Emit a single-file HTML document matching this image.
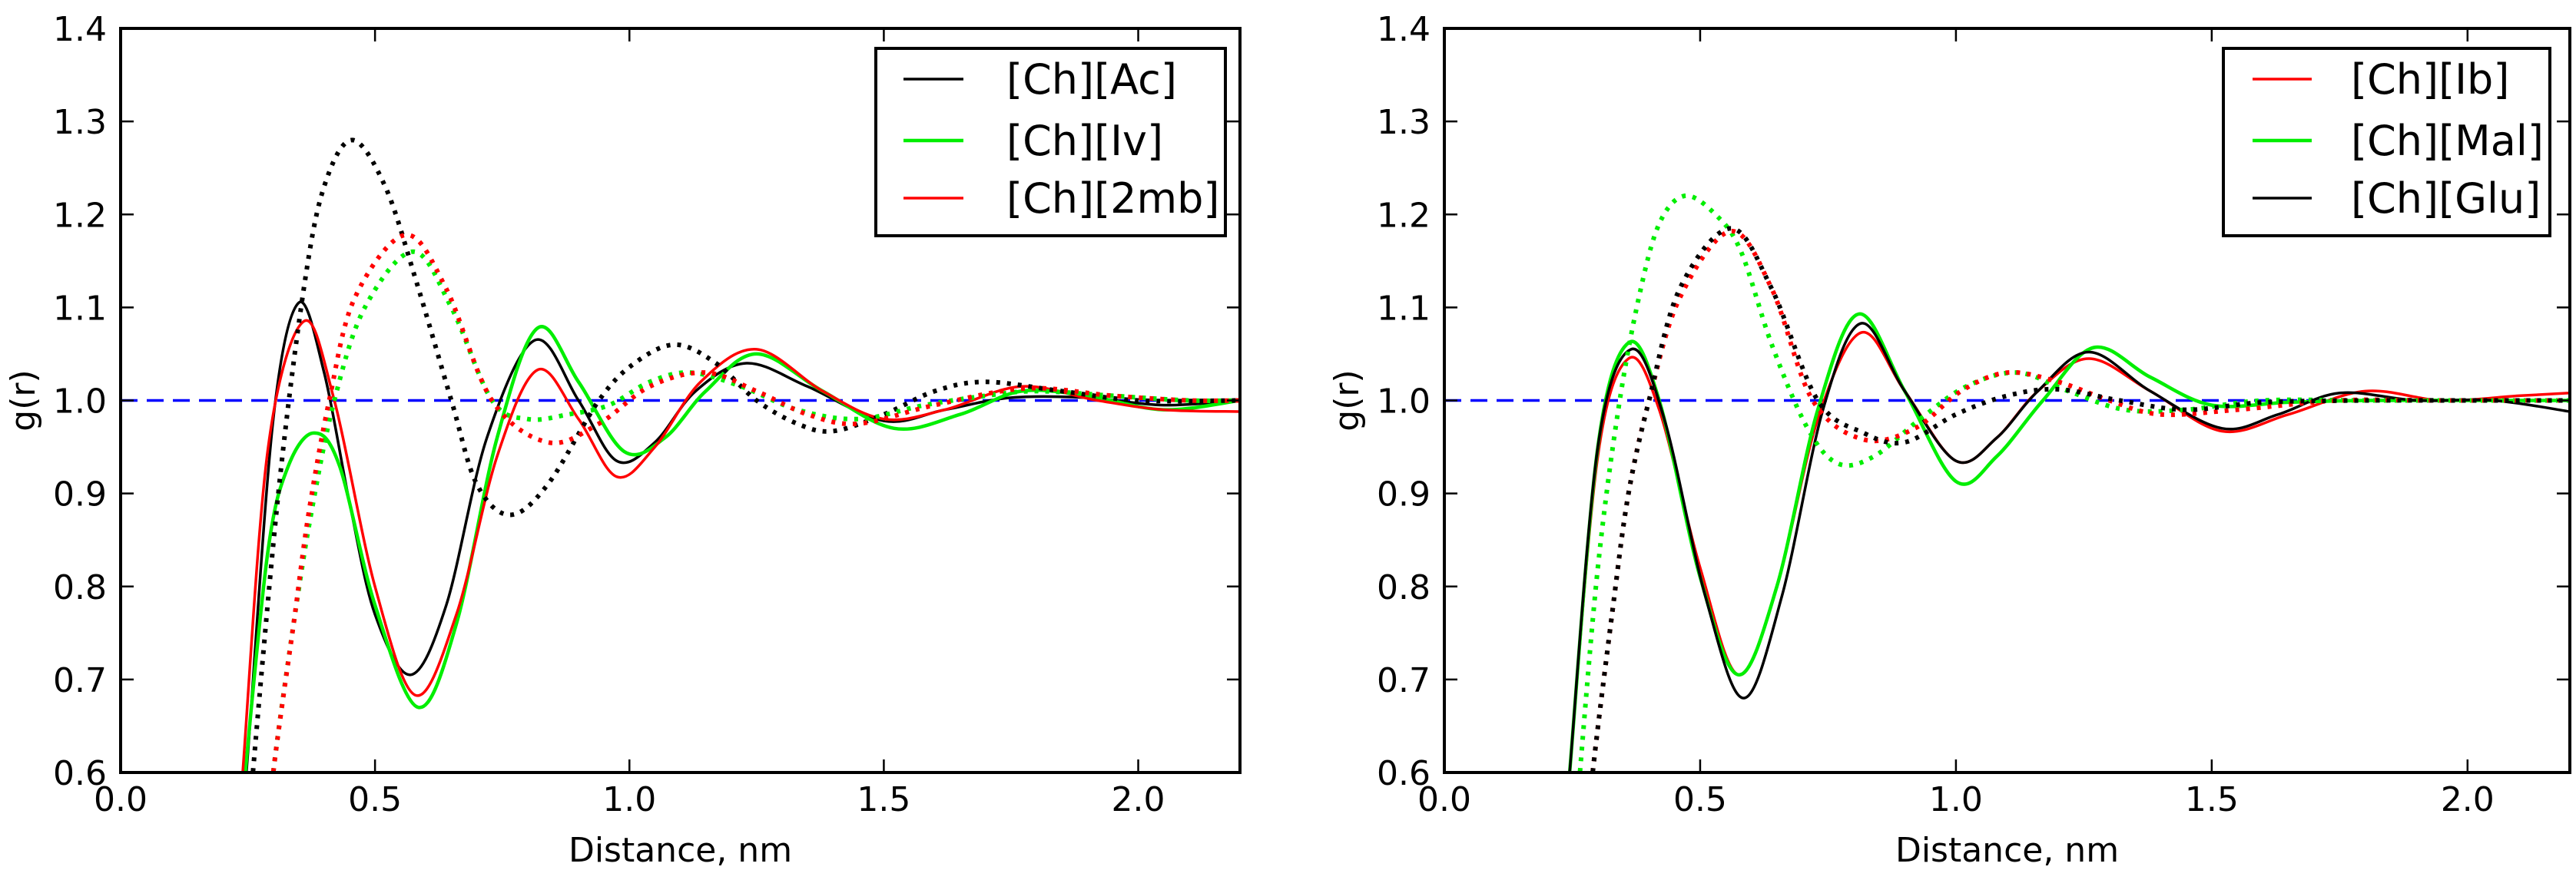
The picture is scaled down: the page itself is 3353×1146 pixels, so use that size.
<!DOCTYPE html>
<html><head><meta charset="utf-8">
<style>
html,body{margin:0;padding:0;background:#fff;overflow:hidden;}
svg{display:block;}
svg text{font-family:"DejaVu Sans","Liberation Sans",sans-serif;}
</style></head>
<body>
<svg id="chart" width="3353" height="1146" viewBox="0 0 3353 1146" xmlns="http://www.w3.org/2000/svg">
<rect x="0" y="0" width="3353" height="1146" fill="#fff"/>
</svg>
<script>
const xTicks = [0.0, 0.5, 1.0, 1.5, 2.0];
const yTicks = [0.6, 0.7, 0.8, 0.9, 1.0, 1.1, 1.2, 1.3, 1.4];
const xTickLabels = ["0.0","0.5","1.0","1.5","2.0"];
const yTickLabels = ["0.6","0.7","0.8","0.9","1.0","1.1","1.2","1.3","1.4"];

// Left panel
const acSolidX = [0.235,0.25,0.30,0.35,0.40,0.45,0.50,0.57,0.64,0.72,0.815,0.90,0.975,1.05,1.13,1.23,1.35,1.50,1.62,1.75,1.90,2.05,2.20];
const acSolidY = [0.52,0.62,0.98,1.105,1.03,0.89,0.77,0.705,0.78,0.96,1.065,1.00,0.935,0.955,1.01,1.04,1.015,0.978,0.99,1.003,1.003,0.995,1.0];
const ivSolidX = [0.235,0.245,0.29,0.33,0.38,0.43,0.50,0.585,0.66,0.74,0.82,0.90,0.99,1.07,1.15,1.25,1.38,1.52,1.65,1.77,1.90,2.05,2.20];
const ivSolidY = [0.52,0.60,0.84,0.93,0.965,0.93,0.78,0.67,0.76,0.96,1.078,1.02,0.945,0.96,1.01,1.05,1.01,0.97,0.985,1.01,1.005,0.99,1.0];
const mbSolidX = [0.23,0.24,0.29,0.36,0.42,0.50,0.58,0.66,0.74,0.82,0.90,0.975,1.05,1.14,1.25,1.38,1.50,1.62,1.77,1.92,2.05,2.20];
const mbSolidY = [0.52,0.60,0.95,1.085,1.00,0.80,0.683,0.77,0.94,1.033,0.98,0.918,0.95,1.02,1.055,1.01,0.98,0.99,1.015,1.0,0.99,0.988];
const acDotX = [0.25,0.26,0.31,0.36,0.40,0.455,0.52,0.58,0.65,0.70,0.765,0.84,0.94,1.01,1.09,1.17,1.25,1.33,1.40,1.50,1.60,1.70,1.85,2.00,2.20];
const acDotY = [0.52,0.60,0.90,1.12,1.23,1.28,1.23,1.13,1.00,0.91,0.877,0.91,1.00,1.04,1.06,1.04,1.00,0.975,0.967,0.985,1.01,1.02,1.01,1.0,1.0];
const ivDotX = [0.29,0.30,0.34,0.375,0.42,0.48,0.575,0.65,0.73,0.80,0.88,0.96,1.04,1.12,1.22,1.33,1.45,1.58,1.70,1.80,1.95,2.10,2.20];
const ivDotY = [0.52,0.60,0.76,0.88,1.00,1.10,1.16,1.10,1.00,0.98,0.985,0.995,1.02,1.03,1.015,0.99,0.98,0.995,1.005,1.01,1.005,1.0,1.0];
const mbDotX = [0.29,0.30,0.34,0.37,0.41,0.46,0.56,0.64,0.73,0.84,0.94,1.04,1.15,1.25,1.35,1.45,1.60,1.78,1.95,2.10,2.20];
const mbDotY = [0.52,0.60,0.76,0.88,1.00,1.11,1.178,1.12,1.00,0.955,0.975,1.015,1.03,1.01,0.985,0.975,0.995,1.013,1.005,1.0,1.0];

// Right panel
const ibSolidX = [0.235,0.245,0.30,0.36,0.42,0.50,0.575,0.65,0.73,0.815,0.90,1.00,1.08,1.16,1.26,1.38,1.52,1.65,1.80,1.95,2.10,2.20];
const ibSolidY = [0.52,0.60,0.94,1.045,0.99,0.82,0.705,0.80,0.98,1.073,1.01,0.935,0.96,1.01,1.045,1.01,0.967,0.985,1.01,1.0,1.005,1.008];
const malSolidX = [0.235,0.245,0.30,0.36,0.42,0.50,0.575,0.65,0.73,0.81,0.90,1.00,1.08,1.17,1.27,1.38,1.50,1.65,1.80,2.00,2.20];
const malSolidY = [0.52,0.60,0.95,1.062,1.00,0.81,0.705,0.80,0.99,1.093,1.01,0.913,0.94,1.00,1.057,1.025,0.995,0.998,1.0,1.0,1.0];
const gluSolidX = [0.235,0.245,0.30,0.365,0.43,0.51,0.585,0.66,0.74,0.815,0.90,1.00,1.08,1.16,1.26,1.38,1.52,1.63,1.75,1.90,2.05,2.20];
const gluSolidY = [0.52,0.60,0.95,1.055,0.98,0.79,0.68,0.79,0.99,1.083,1.01,0.935,0.96,1.01,1.052,1.01,0.97,0.985,1.008,1.0,1.0,0.988];
const malDotX = [0.255,0.265,0.30,0.34,0.38,0.42,0.47,0.53,0.58,0.64,0.71,0.77,0.84,0.93,1.02,1.12,1.22,1.33,1.45,1.60,1.80,2.00,2.20];
const malDotY = [0.52,0.60,0.82,0.99,1.11,1.19,1.22,1.20,1.16,1.06,0.97,0.932,0.94,0.98,1.015,1.03,1.01,0.99,0.99,1.0,1.0,1.0,1.0];
const gluDotX = [0.28,0.29,0.33,0.36,0.40,0.46,0.56,0.64,0.73,0.82,0.90,1.00,1.10,1.20,1.32,1.45,1.60,1.80,2.00,2.20];
const gluDotY = [0.52,0.60,0.78,0.90,1.00,1.12,1.185,1.12,1.00,0.965,0.955,0.985,1.005,1.012,1.0,0.99,0.998,1.0,1.0,1.0];
const ibDotX = [0.28,0.29,0.33,0.36,0.40,0.46,0.56,0.64,0.72,0.82,0.92,1.01,1.10,1.20,1.30,1.40,1.55,1.75,1.95,2.20];
const ibDotY = [0.52,0.60,0.78,0.90,1.00,1.11,1.182,1.12,1.00,0.958,0.97,1.01,1.03,1.02,1.0,0.985,0.99,1.0,1.0,1.0];

const panels = [
  {id:'left', L:157, R:1614, T:37, B:1006,
   legend:{x:1140,y:63,w:455,h:244,lineX1:1176,lineX2:1254,textX:1310},
   series:[
     {name:'[Ch][Ac]', color:'#000', xs:acSolidX, ys:acSolidY, dot:false, legend:true, lw:3.5},
     {name:'[Ch][Iv]', color:'#00ee00', xs:ivSolidX, ys:ivSolidY, dot:false, legend:true, lw:4.5},
     {name:'[Ch][2mb]', color:'#ff0000', xs:mbSolidX, ys:mbSolidY, dot:false, legend:true, lw:3.5},
     {name:'ac-dotted', color:'#000', xs:acDotX, ys:acDotY, dot:true},
     {name:'iv-dotted', color:'#00ee00', xs:ivDotX, ys:ivDotY, dot:true},
     {name:'2mb-dotted', color:'#ff0000', xs:mbDotX, ys:mbDotY, dot:true}
   ]},
  {id:'right', L:1880, R:3345, T:37, B:1006,
   legend:{x:2894,y:63,w:425,h:244,lineX1:2932,lineX2:3009,textX:3060},
   series:[
     {name:'[Ch][Ib]', color:'#ff0000', xs:ibSolidX, ys:ibSolidY, dot:false, legend:true, lw:3.5},
     {name:'[Ch][Mal]', color:'#00ee00', xs:malSolidX, ys:malSolidY, dot:false, legend:true, lw:4.5},
     {name:'[Ch][Glu]', color:'#000', xs:gluSolidX, ys:gluSolidY, dot:false, legend:true, lw:3.5},
     {name:'mal-dotted', color:'#00ee00', xs:malDotX, ys:malDotY, dot:true},
     {name:'ib-dotted', color:'#ff0000', xs:ibDotX, ys:ibDotY, dot:true},
     {name:'glu-dotted', color:'#000', xs:gluDotX, ys:gluDotY, dot:true}
   ]}
];

const NS='http://www.w3.org/2000/svg';
const svg=document.getElementById('chart');
function mk(tag, attrs, parent){const e=document.createElementNS(NS,tag);for(const k in attrs)e.setAttribute(k,attrs[k]);(parent||svg).appendChild(e);return e;}
function pathFrom(pts){
  let d='M'+pts[0][0].toFixed(1)+','+pts[0][1].toFixed(1);
  for(let i=0;i<pts.length-1;i++){
    const p0=pts[Math.max(0,i-1)],p1=pts[i],p2=pts[i+1],p3=pts[Math.min(pts.length-1,i+2)];
    const c1x=p1[0]+(p2[0]-p0[0])/6,c1y=p1[1]+(p2[1]-p0[1])/6;
    const c2x=p2[0]-(p3[0]-p1[0])/6,c2y=p2[1]-(p3[1]-p1[1])/6;
    d+=' C'+c1x.toFixed(1)+','+c1y.toFixed(1)+' '+c2x.toFixed(1)+','+c2y.toFixed(1)+' '+p2[0].toFixed(1)+','+p2[1].toFixed(1);
  }
  return d;
}

panels.forEach(p=>{
  const xS=v=>p.L+v/2.2*(p.R-p.L);
  const yS=v=>p.B-(v-0.6)/0.8*(p.B-p.T);
  const g=mk('g',{});
  
  
  const cp=mk('clipPath',{id:'clip-'+p.id},g);
  mk('rect',{x:p.L,y:p.T,width:p.R-p.L,height:p.B-p.T},cp);
  const plot=mk('g',{'clip-path':'url(#clip-'+p.id+')'},g);
  
  
  const ref=mk('line',{x1:p.L,x2:p.R,y1:yS(1.0),y2:yS(1.0),stroke:'#0000ff','stroke-width':3.5,'stroke-dasharray':'22 12'},plot);
  
  
  p.series.forEach(s=>{
    const pts=s.xs.map((x,i)=>[xS(x),yS(s.ys[i])]);
    const el=mk('path',{d:pathFrom(pts),fill:'none',stroke:s.color,'stroke-width':s.dot?6:(s.lw||3.5),'stroke-linejoin':'round'},plot);
    if(s.dot) el.setAttribute('stroke-dasharray','5 9');
    
    
  });
  xTicks.forEach((t,i)=>{
    const x=xS(t);
    mk('line',{x1:x,x2:x,y1:p.B,y2:p.B-17,stroke:'#000','stroke-width':2.5},g);
    mk('line',{x1:x,x2:x,y1:p.T,y2:p.T+17,stroke:'#000','stroke-width':2.5},g);
    const tx=mk('text',{x:x,y:p.B+50,'font-size':44,'text-anchor':'middle',fill:'#000'},g);
    tx.textContent=xTickLabels[i];
    
    
  });
  yTicks.forEach((t,i)=>{
    const y=yS(t);
    mk('line',{x1:p.L,x2:p.L+17,y1:y,y2:y,stroke:'#000','stroke-width':2.5},g);
    mk('line',{x1:p.R,x2:p.R-17,y1:y,y2:y,stroke:'#000','stroke-width':2.5},g);
    const ty=mk('text',{x:p.L-18,y:y+16,'font-size':44,'text-anchor':'end',fill:'#000'},g);
    ty.textContent=yTickLabels[i];
    
    
  });
  const frame=mk('rect',{x:p.L,y:p.T,width:p.R-p.L,height:p.B-p.T,fill:'none',stroke:'#000','stroke-width':4},g);
  
  
  const xl=mk('text',{x:(p.L+p.R)/2,y:1122,'font-size':44,'text-anchor':'middle',fill:'#000'},g);
  xl.textContent='Distance, nm';
  
  
  const yx=p.L-112, yy=(p.T+p.B)/2;
  const yl=mk('text',{x:yx,y:yy,'font-size':44,'text-anchor':'middle',fill:'#000',transform:'rotate(-90 '+yx+' '+yy+')'},g);
  yl.textContent='g(r)';
  
  
  const lg=mk('g',{},g);
  
  
  const L=p.legend;
  mk('rect',{x:L.x,y:L.y,width:L.w,height:L.h,fill:'#fff',stroke:'#000','stroke-width':4},lg);
  const rows=[103,183,258];
  p.series.filter(s=>s.legend).forEach((s,i)=>{
    const ent=mk('g',{},lg);
    
    
    mk('line',{x1:L.lineX1,x2:L.lineX2,y1:rows[i],y2:rows[i],stroke:s.color,'stroke-width':s.lw},ent);
    const t=mk('text',{x:L.textX,y:rows[i]+19,'font-size':54,fill:'#000'},ent);
    t.textContent=s.name;
  });
});
</script>
</body></html>
